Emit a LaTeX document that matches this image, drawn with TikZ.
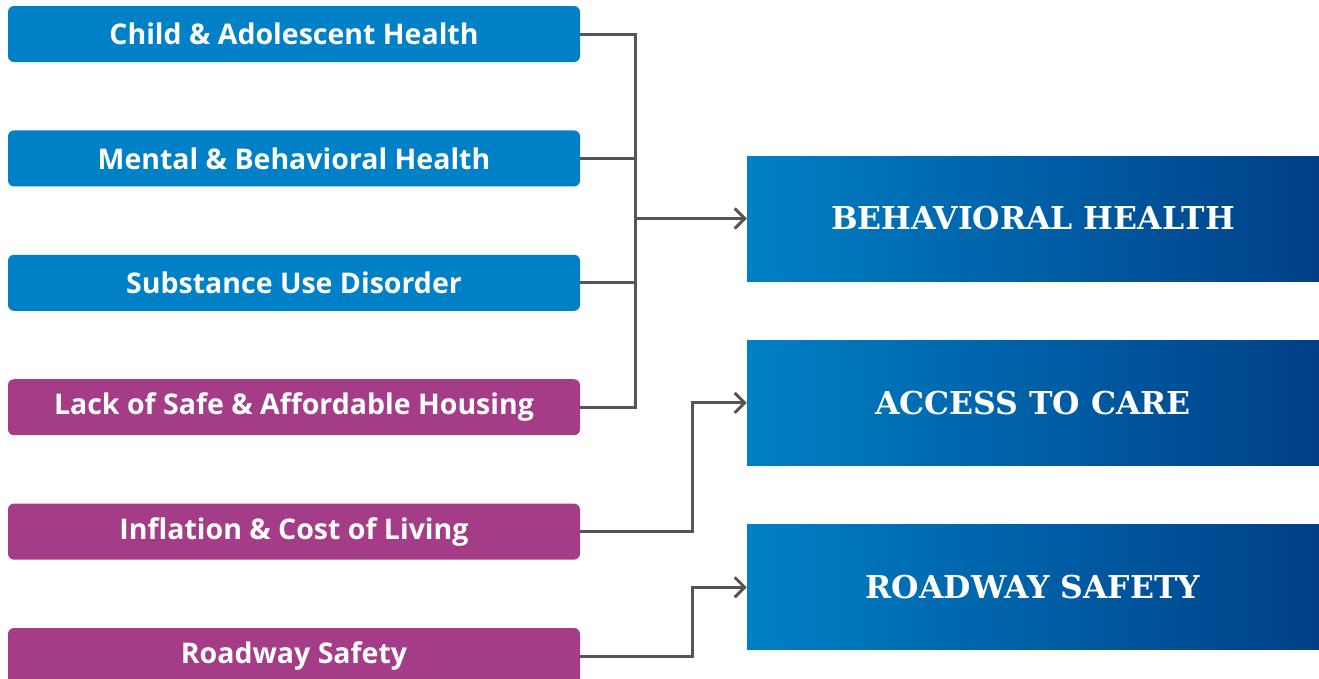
\documentclass[tikz,border=0pt]{standalone}
\usepackage{fontspec}
\setmainfont{Open Sans}
\newfontfamily\slabfont{DejaVu Serif}
\usepackage{xcolor}
\usetikzlibrary{positioning,arrows.meta}
\definecolor{issueblue}{HTML}{0080C6}
\definecolor{issuepurple}{HTML}{A43C87}
\definecolor{deepblue}{HTML}{003F87}
\definecolor{linkgray}{HTML}{555555}

\begin{document}
\begin{tikzpicture}[x=1pt,y=-1pt,
issue/.style={rectangle,rounded corners=6pt,minimum width=572pt,minimum height=56pt,inner sep=0pt,
    text=white,font=\fontsize{28.5}{32}\selectfont\bfseries},
priority/.style={rectangle,minimum width=572pt,minimum height=125pt,inner sep=0pt,
    left color=issueblue,right color=deepblue,text=white,font=\slabfont\fontsize{31.5}{36}\selectfont\bfseries},
link/.style={draw=linkgray,line width=3pt},
arr/.style={link,-{Straight Barb[length=10pt,width=20pt,line width=3pt]}}]
\useasboundingbox (0,0) rectangle (1319,678);
\clip (0,0) rectangle (1319,678);
% left column
\node (child) [issue,fill=issueblue] at (294,34) {Child \& Adolescent Health};
\node (mental) [issue,fill=issueblue,below=68pt of child] {Mental \& Behavioral Health};
\node (substance) [issue,fill=issueblue,below=68pt of mental] {Substance Use Disorder};
\node (housing) [issue,fill=issuepurple,below=68pt of substance] {Lack of Safe \& Affordable Housing};
\node (inflation) [issue,fill=issuepurple,below=68pt of housing] {Inflation \& Cost of Living};
\node (roadway) [issue,fill=issuepurple,below=68pt of inflation] {Roadway Safety};
% right column
\node (behav) [priority] at (1033,218.5) {BEHAVIORAL HEALTH};
\node (access) [priority,below=59pt of behav] {ACCESS TO CARE};
\node (safety) [priority,below=59pt of access] {ROADWAY SAFETY};
% connectors
\coordinate (bus) at ([xshift=55pt]child.east);
\coordinate (bend) at ([xshift=112pt]inflation.east);
\draw[link] (child.east) -- (bus) -- (bus |- housing.east) -- (housing.east);
\draw[link] (mental.east) -- (mental.east -| bus);
\draw[link] (substance.east) -- (substance.east -| bus);
\draw[arr] (bus |- behav.west) -- (behav.west);
\draw[arr] (inflation.east) -- (bend) |- (access.west);
\draw[arr] (roadway.east) -- (roadway.east -| bend) |- (safety.west);
\end{tikzpicture}
\end{document}
